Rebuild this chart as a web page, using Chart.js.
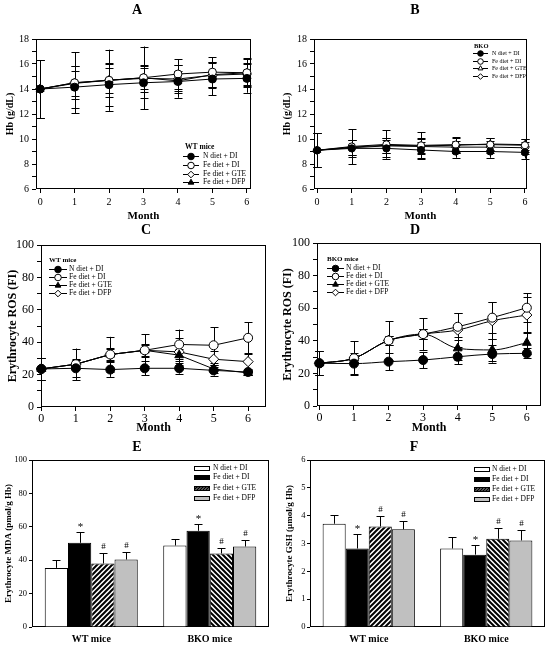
<!DOCTYPE html>
<html><head><meta charset="utf-8">
<script src="https://cdn.jsdelivr.net/npm/chart.js@4.4.1/dist/chart.umd.min.js"></script>
<style>
html,body{margin:0;padding:0;background:#fff;}
body{width:550px;height:647px;position:relative;overflow:hidden;}
canvas{position:absolute;}
</style></head><body>
<canvas id="cA"></canvas><canvas id="cB"></canvas>
<canvas id="cC"></canvas><canvas id="cD"></canvas>
<canvas id="cE"></canvas><canvas id="cF"></canvas>
<script>
// ---------------- DATA ----------------
const months = [0, 1, 2, 3, 4, 5, 6];
const seriesNames = ['N diet + DI', 'Fe diet + DI', 'Fe diet + GTE', 'Fe diet + DFP'];
const monthTicks = [0, 1, 2, 3, 4, 5, 6];

// A: Hb, WT mice
const hbWT_N       = [14.0, 14.15, 14.35, 14.5, 14.6, 14.8, 14.85];
const hbWT_N_err   = [2.3, 1.65, 1.7, 1.2, 1.3, 1.3, 1.15];
const hbWT_FeDI    = [14.0, 14.5, 14.7, 14.9, 15.2, 15.35, 15.3];
const hbWT_FeDI_err= [2.3, 2.45, 2.45, 2.5, 1.2, 1.2, 1.15];
const hbWT_GTE     = [14.0, 14.5, 14.7, 14.85, 14.8, 15.1, 15.2];
const hbWT_GTE_err = [2.3, 1.3, 1.3, 1.1, 1.1, 1.05, 0.9];
const hbWT_DFP     = [14.0, 14.45, 14.7, 14.9, 14.65, 15.15, 15.3];
const hbWT_DFP_err = [2.3, 1.0, 1.0, 0.9, 0.8, 1.0, 1.1];

// B: Hb, BKO mice
const hbKO_N       = [9.1, 9.25, 9.25, 9.12, 9.0, 9.0, 8.93];
const hbKO_N_err   = [1.36, 0.7, 0.7, 0.65, 0.5, 0.5, 0.5];
const hbKO_FeDI    = [9.1, 9.4, 9.57, 9.49, 9.55, 9.55, 9.5];
const hbKO_FeDI_err= [1.36, 1.4, 1.15, 1.07, 0.58, 0.5, 0.5];
const hbKO_GTE     = [9.1, 9.35, 9.5, 9.45, 9.5, 9.6, 9.55];
const hbKO_GTE_err = [1.36, 0.6, 0.6, 0.6, 0.6, 0.45, 0.45];
const hbKO_DFP     = [9.1, 9.3, 9.45, 9.4, 9.35, 9.35, 9.3];
const hbKO_DFP_err = [1.36, 0.6, 0.6, 0.6, 0.5, 0.5, 0.5];

// C: erythrocyte ROS, WT mice
const rosWT_N       = [23.5, 23.9, 23.1, 23.9, 23.9, 22.6, 21.6];
const rosWT_N_err   = [7.0, 5.2, 4.5, 4.3, 3.3, 3.2, 2.0];
const rosWT_FeDI    = [23.5, 26.4, 32.4, 35.0, 38.6, 38.1, 42.7];
const rosWT_FeDI_err= [7.0, 9.7, 10.9, 9.9, 9.2, 11.2, 9.5];
const rosWT_GTE     = [23.5, 26.4, 32.4, 35.0, 32.0, 23.5, 21.0];
const rosWT_GTE_err = [7.0, 3.0, 4.0, 4.0, 3.5, 2.5, 1.5];
const rosWT_DFP     = [23.5, 26.4, 32.4, 35.0, 34.0, 29.5, 28.0];
const rosWT_DFP_err = [7.0, 2.5, 3.5, 3.5, 8.3, 5.0, 5.0];

// D: erythrocyte ROS, BKO mice
const rosKO_N       = [26.2, 26.0, 27.2, 28.2, 30.2, 31.9, 32.3];
const rosKO_N_err   = [7.4, 6.5, 5.2, 5.0, 4.6, 5.3, 3.1];
const rosKO_FeDI    = [26.2, 29.3, 40.2, 44.1, 48.6, 54.2, 60.3];
const rosKO_FeDI_err= [7.4, 10.3, 11.8, 9.8, 8.3, 9.6, 8.8];
const rosKO_GTE     = [26.2, 29.3, 40.2, 44.1, 35.4, 34.4, 38.8];
const rosKO_GTE_err = [7.4, 2.0, 3.0, 3.0, 7.0, 7.0, 6.8];
const rosKO_DFP     = [26.2, 29.3, 40.2, 44.1, 46.6, 52.3, 55.8];
const rosKO_DFP_err = [7.4, 2.0, 3.0, 3.0, 10.3, 11.5, 11.2];

// E / F bar groups
const groupLabels = ['WT mice', 'BKO mice'];
const mda_N    = [35.4, 48.8];  const mda_N_err    = [4.6, 3.8];
const mda_FeDI = [50.4, 57.6];  const mda_FeDI_err = [6.2, 3.8];
const mda_GTE  = [38.0, 44.0];  const mda_GTE_err  = [6.2, 3.2];
const mda_DFP  = [40.4, 48.2];  const mda_DFP_err  = [4.6, 3.6];
const gsh_N    = [3.71, 2.82];  const gsh_N_err    = [0.33, 0.41];
const gsh_FeDI = [2.82, 2.60];  const gsh_FeDI_err = [0.53, 0.33];
const gsh_GTE  = [3.61, 3.17];  const gsh_GTE_err  = [0.37, 0.38];
const gsh_DFP  = [3.51, 3.11];  const gsh_DFP_err  = [0.29, 0.36];
const marks_N = ['', ''], marks_FeDI = ['*', '*'], marks_GTE = ['#', '#'], marks_DFP = ['#', '#'];

// ---------------- HELPERS ----------------
const FONT = "'Liberation Serif', 'Times New Roman', Times, serif";

function placeCanvas(id, g) {
  const c = document.getElementById(id);
  c.width = g.w; c.height = g.h;
  c.style.left = g.x + 'px'; c.style.top = g.y + 'px';
  c.style.width = g.w + 'px'; c.style.height = g.h + 'px';
  return c;
}

function drawMarker(ctx, style, x, y, r, fill) {
  ctx.beginPath();
  if (style === 'circle') {
    ctx.arc(x, y, r, 0, Math.PI * 2);
  } else if (style === 'triangle') {
    for (let k = 0; k < 3; k++) {
      const a = k * 2 * Math.PI / 3;
      const px = x + Math.sin(a) * r, py = y - Math.cos(a) * r;
      k ? ctx.lineTo(px, py) : ctx.moveTo(px, py);
    }
  } else {
    ctx.moveTo(x, y - r); ctx.lineTo(x + r, y); ctx.lineTo(x, y + r); ctx.lineTo(x - r, y);
  }
  ctx.closePath();
  ctx.fillStyle = fill; ctx.fill();
  ctx.strokeStyle = '#000'; ctx.lineWidth = 1; ctx.stroke();
}

const framePlugin = {
  id: 'frame',
  beforeDatasetsDraw(chart) {
    const {ctx, chartArea: a} = chart;
    ctx.save(); ctx.strokeStyle = '#000'; ctx.lineWidth = 1;
    const l = Math.round(a.left) + 0.5, t = Math.round(a.top) + 0.5;
    const r = Math.round(a.right) - 0.5, b = Math.round(a.bottom) - 0.5;
    ctx.strokeRect(l, t, r - l, b - t);
    ctx.restore();
  }
};

const errorPlugin = {
  id: 'errbars',
  beforeDatasetsDraw(chart) {
    if (chart.config.type !== 'line') return;
    const {ctx} = chart; const ys = chart.scales.y;
    ctx.save(); ctx.strokeStyle = '#000'; ctx.lineWidth = 1;
    chart.data.datasets.forEach((ds, i) => {
      const meta = chart.getDatasetMeta(i);
      ds.errorBars.forEach((e, j) => {
        const v = ds.data[j].y;
        const x = Math.round(meta.data[j].x) + 0.5;
        const y0 = ys.getPixelForValue(v - e), y1 = ys.getPixelForValue(v + e);
        const cw = 4;
        ctx.beginPath();
        ctx.moveTo(x, y0); ctx.lineTo(x, y1);
        ctx.moveTo(x - cw, Math.round(y0) + 0.5); ctx.lineTo(x + cw, Math.round(y0) + 0.5);
        ctx.moveTo(x - cw, Math.round(y1) + 0.5); ctx.lineTo(x + cw, Math.round(y1) + 0.5);
        ctx.stroke();
      });
    });
    ctx.restore();
  },
  afterDatasetsDraw(chart) {
    if (chart.config.type !== 'bar') return;
    const {ctx} = chart; const ys = chart.scales.y;
    ctx.save(); ctx.strokeStyle = '#000'; ctx.lineWidth = 1; ctx.fillStyle = '#000';
    chart.data.datasets.forEach((ds, i) => {
      const meta = chart.getDatasetMeta(i);
      ds.data.forEach((v, j) => {
        const e = ds.errorBars[j];
        const x = Math.round(meta.data[j].x) + 0.5;
        const y0 = ys.getPixelForValue(v), y1 = Math.round(ys.getPixelForValue(v + e)) + 0.5;
        ctx.beginPath();
        ctx.moveTo(x, y0); ctx.lineTo(x, y1);
        ctx.moveTo(x - 4, y1); ctx.lineTo(x + 4, y1);
        ctx.stroke();
        const m = ds.marks[j];
        if (m) {
          ctx.font = `${m === '*' ? 11 : 9}px ${FONT}`;
          ctx.textAlign = 'center'; ctx.textBaseline = 'bottom';
          ctx.fillText(m, x, y1 - (m === '*' ? 0 : 2));
        }
      });
    });
    ctx.restore();
  }
};

const decoPlugin = {
  id: 'deco',
  afterDraw(chart, args, o) {
    const ctx = chart.ctx;
    const ox = o.cx, oy = o.cy;
    ctx.save();
    ctx.fillStyle = '#000';
    // panel letter
    ctx.font = `bold 14px ${FONT}`; ctx.textAlign = 'center'; ctx.textBaseline = 'middle';
    ctx.fillText(o.letter, o.letterX - ox, o.letterY - oy);
    const L = o.legend;
    if (L.title) {
      ctx.font = `bold ${L.titleSize}px ${FONT}`; ctx.textAlign = 'left';
      ctx.fillText(L.title, L.titleX - ox, L.titleY - oy);
    }
    chart.data.datasets.forEach((ds, i) => {
      const ry = Math.round(L.rows[i] - oy) + 0.5;
      const lx = L.x - ox;
      if (L.kind === 'line') {
        ctx.strokeStyle = '#000'; ctx.lineWidth = 1;
        ctx.beginPath(); ctx.moveTo(lx, ry); ctx.lineTo(lx + L.len, ry); ctx.stroke();
        drawMarker(ctx, ds.pointStyle, lx + L.len / 2, ry, L.r, ds.pointBackgroundColor);
      } else {
        ctx.fillStyle = ds.legendFill;
        ctx.fillRect(Math.round(lx), Math.round(ry - L.bh / 2), L.len, L.bh);
        ctx.strokeStyle = '#000'; ctx.lineWidth = 1;
        ctx.strokeRect(Math.round(lx) + 0.5, Math.round(ry - L.bh / 2) + 0.5, L.len - 1, L.bh - 1);
      }
      ctx.fillStyle = '#000';
      ctx.font = `${L.size}px ${FONT}`; ctx.textAlign = 'left'; ctx.textBaseline = 'middle';
      ctx.fillText(ds.label, L.textX - ox, ry);
    });
    ctx.restore();
  }
};

function hatch(ctx, dir, s, lw) {
  const c = document.createElement('canvas'); c.width = c.height = s;
  const x = c.getContext('2d');
  x.fillStyle = '#fff'; x.fillRect(0, 0, s, s);
  x.strokeStyle = '#000'; x.lineWidth = lw; x.beginPath();
  if (dir === '/') {
    x.moveTo(0, s); x.lineTo(s, 0);
    x.moveTo(-1, 1); x.lineTo(1, -1);
    x.moveTo(s - 1, s + 1); x.lineTo(s + 1, s - 1);
  } else {
    x.moveTo(0, 0); x.lineTo(s, s);
    x.moveTo(s - 1, -1); x.lineTo(s + 1, 1);
    x.moveTo(-1, s - 1); x.lineTo(1, s + 1);
  }
  x.stroke();
  return ctx.createPattern(c, 'repeat');
}

function commonOptions(g, spec) {
  return {
    responsive: false, animation: false, events: [],
    layout: { padding: { left: 0, top: spec.plot.t - g.y, right: g.x + g.w - spec.plot.r, bottom: 0 } },
    plugins: {
      legend: { display: false }, tooltip: { enabled: false },
      deco: { cx: g.x, cy: g.y, letter: spec.letter, letterX: spec.letterX, letterY: spec.letterY, legend: spec.legend }
    }
  };
}

function yScale(g, spec) {
  const lh = spec.yTitleSize * 1.2;
  return {
    type: 'linear', min: spec.yMin, max: spec.yMax,
    afterFit: (s) => { s.width = spec.plot.l - g.x; },
    border: { display: false },
    grid: { drawOnChartArea: false, drawTicks: true, tickLength: spec.yTickLen, color: '#000', tickColor: '#000', tickWidth: 1 },
    ticks: {
      stepSize: spec.yStep, autoSkip: false, includeBounds: false, color: '#000', padding: spec.yPad,
      font: { family: FONT, size: spec.yTickSize },
      callback: (v) => (Math.abs(v / spec.yLabelEvery - Math.round(v / spec.yLabelEvery)) < 1e-6 ? String(v) : '')
    },
    title: { display: true, text: spec.yTitle, color: '#000', font: { family: FONT, size: spec.yTitleSize, weight: 'bold' },
      padding: { top: spec.yTitleX - g.x - lh / 2, bottom: 0 } }
  };
}

function makeLine(id, g, spec, series) {
  const c = placeCanvas(id, g);
  const datasets = series.map((s, i) => ({
    label: seriesNames[i],
    data: months.map((m, j) => ({ x: m, y: s.vals[j] })),
    errorBars: s.errs,
    borderColor: '#000', borderWidth: 1, tension: 0,
    cubicInterpolationMode: spec.smooth ? 'monotone' : 'default',
    pointStyle: s.style, pointRadius: s.style === 'circle' ? spec.r : spec.r + 0.6,
    pointBackgroundColor: s.fill, pointBorderColor: '#000', pointBorderWidth: 1,
    clip: false
  }));
  const opts = commonOptions(g, spec);
  opts.scales = {
    x: {
      type: 'linear', min: spec.xMin, max: spec.xMax,
      afterFit: (s) => { s.height = g.y + g.h - spec.plot.b; },
      afterBuildTicks: (s) => { s.ticks = monthTicks.map(v => ({ value: v })); },
      border: { display: false },
      grid: { drawOnChartArea: false, drawTicks: true, tickLength: 4, color: '#000', tickColor: '#000' },
      ticks: { autoSkip: false, maxRotation: 0, color: '#000', padding: spec.xPad, font: { family: FONT, size: spec.xTickSize } },
      title: { display: true, text: 'Month', color: '#000', font: { family: FONT, size: spec.xTitleSize, weight: 'bold' },
        padding: { top: 0, bottom: g.y + g.h - spec.monthY - spec.xTitleSize * 0.6 } }
    },
    y: yScale(g, spec)
  };
  return new Chart(c, { type: 'line', data: { datasets }, options: opts, plugins: [framePlugin, errorPlugin, decoPlugin] });
}

function makeBar(id, g, spec, series) {
  const c = placeCanvas(id, g);
  const ctx = c.getContext('2d');
  const fills = [
    ['#ffffff', '#ffffff'],
    ['#000000', '#000000'],
    [hatch(ctx, '/', 5, 2), hatch(ctx, '\\', 5, 2)],
    ['#c0c0c0', '#c0c0c0']
  ];
  const legendFills = ['#ffffff', '#000000', hatch(ctx, '/', 3, 1.6), '#c0c0c0'];
  const datasets = series.map((s, i) => ({
    label: seriesNames[i], data: s.vals, errorBars: s.errs, marks: s.marks,
    backgroundColor: fills[i], legendFill: legendFills[i],
    borderColor: '#000', borderWidth: 1,
    categoryPercentage: 0.785, barPercentage: 1.0
  }));
  const opts = commonOptions(g, spec);
  opts.scales = {
    x: {
      type: 'category',
      afterFit: (s) => { s.height = g.y + g.h - spec.plot.b; },
      border: { display: false },
      grid: { display: false, drawTicks: false },
      ticks: { color: '#000', padding: spec.xPad, font: { family: FONT, size: spec.xTickSize, weight: 'bold' } }
    },
    y: yScale(g, spec)
  };
  return new Chart(c, { type: 'bar', data: { labels: groupLabels, datasets }, options: opts, plugins: [framePlugin, errorPlugin, decoPlugin] });
}

// ---------------- PANELS ----------------
makeLine('cA', { x: 0, y: 0, w: 275, h: 224 }, {
  plot: { l: 36, t: 39, r: 251, b: 189 }, letter: 'A', letterX: 137, letterY: 10,
  xMin: -0.12, xMax: 6.12, yMin: 6, yMax: 18, yStep: 1, yLabelEvery: 2,
  yTickLen: 4, yPad: 3, yTickSize: 10, xTickSize: 10, xPad: 3, r: 4,
  yTitle: 'Hb (g/dL)', yTitleSize: 10, yTitleX: 10, xTitleSize: 11, monthY: 216,
  legend: { kind: 'line', title: 'WT mice', titleSize: 7.5, titleX: 185, titleY: 147,
    rows: [156, 165, 174, 182], x: 183, len: 16, textX: 203, size: 7.5, r: 3.3 }
}, [
  { vals: hbWT_N, errs: hbWT_N_err, style: 'circle', fill: '#000' },
  { vals: hbWT_FeDI, errs: hbWT_FeDI_err, style: 'circle', fill: '#fff' },
  { vals: hbWT_GTE, errs: hbWT_GTE_err, style: 'rectRot', fill: '#fff' },
  { vals: hbWT_DFP, errs: hbWT_DFP_err, style: 'triangle', fill: '#000' }
]);

makeLine('cB', { x: 275, y: 0, w: 275, h: 224 }, {
  plot: { l: 314, t: 39, r: 527, b: 189 }, letter: 'B', letterX: 415, letterY: 10,
  xMin: -0.09, xMax: 6.06, yMin: 6, yMax: 18, yStep: 1, yLabelEvery: 2,
  yTickLen: 4, yPad: 3, yTickSize: 10, xTickSize: 10, xPad: 3, r: 3.6,
  yTitle: 'Hb (g/dL)', yTitleSize: 10, yTitleX: 287, xTitleSize: 11, monthY: 216,
  legend: { kind: 'line', title: 'BKO', titleSize: 6.5, titleX: 474, titleY: 46,
    rows: [53, 61, 68, 76], x: 473, len: 15, textX: 492, size: 6, r: 2.8 }
}, [
  { vals: hbKO_N, errs: hbKO_N_err, style: 'circle', fill: '#000' },
  { vals: hbKO_FeDI, errs: hbKO_FeDI_err, style: 'circle', fill: '#fff' },
  { vals: hbKO_GTE, errs: hbKO_GTE_err, style: 'triangle', fill: '#fff' },
  { vals: hbKO_DFP, errs: hbKO_DFP_err, style: 'rectRot', fill: '#fff' }
]);

makeLine('cC', { x: 0, y: 218, w: 275, h: 218 }, {
  plot: { l: 41, t: 245, r: 266, b: 407 }, letter: 'C', letterX: 146, letterY: 230,
  xMin: -0.01, xMax: 6.52, yMin: 0, yMax: 100, yStep: 10, yLabelEvery: 20,
  yTickLen: 4, yPad: 3, yTickSize: 12, xTickSize: 12, xPad: 1, r: 4.5,
  yTitle: 'Erythrocyte ROS (FI)', yTitleSize: 12, yTitleX: 13, xTitleSize: 12, monthY: 428,
  legend: { kind: 'line', title: 'WT mice', titleSize: 7, titleX: 49, titleY: 260.5,
    rows: [269, 277.3, 285.3, 293.3], x: 49, len: 18, textX: 69, size: 7.5, r: 3.3 }
}, [
  { vals: rosWT_N, errs: rosWT_N_err, style: 'circle', fill: '#000' },
  { vals: rosWT_FeDI, errs: rosWT_FeDI_err, style: 'circle', fill: '#fff' },
  { vals: rosWT_GTE, errs: rosWT_GTE_err, style: 'triangle', fill: '#000' },
  { vals: rosWT_DFP, errs: rosWT_DFP_err, style: 'rectRot', fill: '#fff' }
]);

makeLine('cD', { x: 275, y: 218, w: 275, h: 218 }, {
  plot: { l: 317, t: 243, r: 541, b: 406 }, letter: 'D', letterX: 415, letterY: 230,
  xMin: -0.07, xMax: 6.41, yMin: 0, yMax: 100, yStep: 10, yLabelEvery: 20,
  yTickLen: 4, yPad: 3, yTickSize: 12, xTickSize: 12, xPad: 1, r: 4.5, smooth: true,
  yTitle: 'Erythrocyte ROS (FI)', yTitleSize: 12, yTitleX: 288, xTitleSize: 12, monthY: 428,
  legend: { kind: 'line', title: 'BKO mice', titleSize: 7, titleX: 327, titleY: 259,
    rows: [268, 276, 284, 292], x: 327, len: 17, textX: 346, size: 7.5, r: 3.3 }
}, [
  { vals: rosKO_N, errs: rosKO_N_err, style: 'circle', fill: '#000' },
  { vals: rosKO_FeDI, errs: rosKO_FeDI_err, style: 'circle', fill: '#fff' },
  { vals: rosKO_GTE, errs: rosKO_GTE_err, style: 'triangle', fill: '#000' },
  { vals: rosKO_DFP, errs: rosKO_DFP_err, style: 'rectRot', fill: '#fff' }
]);

makeBar('cE', { x: 0, y: 432, w: 275, h: 215 }, {
  plot: { l: 32, t: 460, r: 269, b: 627 }, letter: 'E', letterX: 137, letterY: 447,
  yMin: 0, yMax: 100, yStep: 20, yLabelEvery: 20, yTickLen: 3, yPad: 2, yTickSize: 8.5,
  xTickSize: 10, xPad: 6,
  yTitle: 'Erythrocyte MDA (pmol/g Hb)', yTitleSize: 9, yTitleX: 9,
  legend: { kind: 'bar', rows: [467.5, 477, 487.5, 497.5], x: 194, len: 16, bh: 5, textX: 213, size: 7.5 }
}, [
  { vals: mda_N, errs: mda_N_err, marks: marks_N },
  { vals: mda_FeDI, errs: mda_FeDI_err, marks: marks_FeDI },
  { vals: mda_GTE, errs: mda_GTE_err, marks: marks_GTE },
  { vals: mda_DFP, errs: mda_DFP_err, marks: marks_DFP }
]);

makeBar('cF', { x: 275, y: 432, w: 275, h: 215 }, {
  plot: { l: 310, t: 460, r: 545, b: 627 }, letter: 'F', letterX: 414, letterY: 447,
  yMin: 0, yMax: 6, yStep: 1, yLabelEvery: 1, yTickLen: 3, yPad: 1.5, yTickSize: 8.5,
  xTickSize: 10, xPad: 6,
  yTitle: 'Erythrocyte GSH (\u00b5mol/g Hb)', yTitleSize: 9, yTitleX: 290,
  legend: { kind: 'bar', rows: [469, 478.5, 488.5, 498.5], x: 474, len: 16, bh: 5, textX: 492, size: 7.5 }
}, [
  { vals: gsh_N, errs: gsh_N_err, marks: marks_N },
  { vals: gsh_FeDI, errs: gsh_FeDI_err, marks: marks_FeDI },
  { vals: gsh_GTE, errs: gsh_GTE_err, marks: marks_GTE },
  { vals: gsh_DFP, errs: gsh_DFP_err, marks: marks_DFP }
]);
</script>
</body></html>
